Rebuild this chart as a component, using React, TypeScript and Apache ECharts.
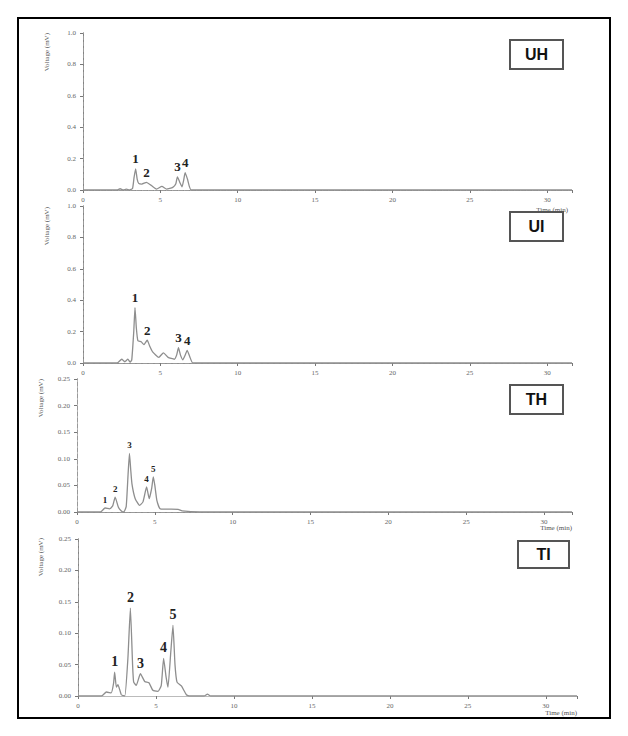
import React, { useEffect, useRef } from "react";
import * as echarts from "echarts";

// ---- data (time in min, signal in mV) ----
const uhTime = [0, 2.2, 2.4, 2.6, 2.8, 3.0, 3.2, 3.3, 3.4, 3.5, 3.6, 3.8, 4.1, 4.4, 4.75, 5.1, 5.4, 5.8, 6.0, 6.1, 6.25, 6.4, 6.5, 6.6, 6.75, 7.0, 31.6];
const uhVolt = [0, 0, 0.008, 0, 0.005, 0, 0.01, 0.08, 0.135, 0.07, 0.042, 0.038, 0.049, 0.03, 0.006, 0.023, 0.006, 0.017, 0.04, 0.084, 0.05, 0.02, 0.06, 0.11, 0.07, 0, 0];
const uhPeakTime = [3.4, 4.1, 6.1, 6.6];
const uhPeakVolt = [0.135, 0.049, 0.084, 0.11];
const uhPeakLabel = ["1", "2", "3", "4"];

const uiTime = [0, 2.2, 2.5, 2.7, 2.9, 3.05, 3.15, 3.28, 3.36, 3.45, 3.55, 3.76, 3.94, 4.15, 4.3, 4.5, 4.9, 5.2, 5.5, 5.9, 6.05, 6.17, 6.3, 6.45, 6.6, 6.73, 6.9, 7.1, 31.6];
const uiVolt = [0, 0, 0.024, 0.008, 0.024, 0.005, 0.02, 0.2, 0.353, 0.22, 0.141, 0.135, 0.117, 0.145, 0.11, 0.071, 0.036, 0.065, 0.036, 0.024, 0.05, 0.097, 0.05, 0.02, 0.05, 0.081, 0.04, 0, 0];
const uiPeakTime = [3.36, 4.15, 6.17, 6.73];
const uiPeakVolt = [0.353, 0.145, 0.097, 0.081];
const uiPeakLabel = ["1", "2", "3", "4"];

const thTime = [0, 1.5, 1.8, 2.1, 2.3, 2.45, 2.66, 2.85, 3.0, 3.16, 3.28, 3.37, 3.45, 3.53, 3.74, 4.02, 4.24, 4.47, 4.64, 4.8, 4.9, 5.0, 5.13, 5.35, 6.5, 6.75, 7.9, 31.8];
const thVolt = [0, 0, 0.0075, 0.006, 0.012, 0.028, 0.009, 0.002, 0, 0.01, 0.07, 0.11, 0.08, 0.053, 0.025, 0.0125, 0.019, 0.047, 0.025, 0.045, 0.066, 0.05, 0.022, 0.006, 0.005, 0.002, 0, 0];
const thPeakTime = [1.8, 2.45, 3.37, 4.47, 4.9];
const thPeakVolt = [0.0075, 0.028, 0.11, 0.047, 0.066];
const thPeakLabel = ["1", "2", "3", "4", "5"];

const tiTime = [0, 1.5, 1.82, 2.13, 2.28, 2.35, 2.46, 2.56, 2.78, 3.0, 3.2, 3.36, 3.5, 3.57, 3.74, 4.0, 4.28, 4.55, 4.8, 5.13, 5.34, 5.49, 5.65, 5.77, 5.95, 6.09, 6.22, 6.35, 6.63, 6.95, 7.16, 8.1, 8.3, 8.5, 32];
const tiVolt = [0, 0, 0.0064, 0.005, 0.02, 0.038, 0.014, 0.018, 0.002, 0, 0.06, 0.14, 0.05, 0.022, 0.017, 0.0355, 0.023, 0.021, 0.009, 0.0075, 0.017, 0.06, 0.03, 0.014, 0.07, 0.1125, 0.05, 0.022, 0.016, 0.002, 0, 0, 0.003, 0, 0];
const tiPeakTime = [2.35, 3.36, 4.0, 5.49, 6.09];
const tiPeakVolt = [0.038, 0.14, 0.0355, 0.06, 0.1125];
const tiPeakLabel = ["1", "2", "3", "4", "5"];

const panelNames = ["UH", "UI", "TH", "TI"];
const xMaxes = [31.6, 31.6, 31.8, 32];
const yMaxes = [1.0, 1.0, 0.25, 0.25];
const yIntervals = [0.2, 0.2, 0.05, 0.05];
const yDecimals = [1, 1, 2, 2];
const xInterval = 5;
const yTitle = "Voltage (mV)";
const xTitle = "Time (min)";

const panels = [
  { t: uhTime, v: uhVolt, pt: uhPeakTime, pv: uhPeakVolt, pl: uhPeakLabel },
  { t: uiTime, v: uiVolt, pt: uiPeakTime, pv: uiPeakVolt, pl: uiPeakLabel },
  { t: thTime, v: thVolt, pt: thPeakTime, pv: thPeakVolt, pl: thPeakLabel },
  { t: tiTime, v: tiVolt, pt: tiPeakTime, pv: tiPeakVolt, pl: tiPeakLabel },
];

// ---- layout ----
const grids = [
  { left: 83, top: 33, width: 489, height: 157 },
  { left: 83, top: 206, width: 489, height: 157 },
  { left: 77, top: 379, width: 495, height: 133 },
  { left: 78, top: 539, width: 499, height: 157 },
];
const boxes = [
  { x: 510, y: 40, w: 53, h: 29 },
  { x: 510, y: 212, w: 53, h: 29 },
  { x: 510, y: 385, w: 53, h: 29 },
  { x: 518, y: 541, w: 51, h: 27 },
];
const yTitlePos = [
  { x: 47, y: 33 },
  { x: 47, y: 207 },
  { x: 41, y: 379 },
  { x: 41, y: 538 },
];
const xTitlePos = [
  { x: 568, y: 210 },
  null,
  { x: 572, y: 528 },
  { x: 577, y: 713 },
];
const peakFont = [13, 13, 9, 14];
const bottomLineType = ["dotted", "solid", "solid", "solid"];
const leftLineType = ["solid", "solid", "dashed", "solid"];

const axisFont = "Liberation Serif";

function buildOption() {
  const xAxis: any[] = [];
  const yAxis: any[] = [];
  const series: any[] = [];
  const graphic: any[] = [];

  panels.forEach((p, i) => {
    xAxis.push({
      type: "value",
      gridIndex: i,
      position: "bottom",
      min: 0,
      max: xMaxes[i],
      interval: xInterval,
      axisLine: { show: true, lineStyle: { color: "#888", width: 1, type: bottomLineType[i] } },
      axisTick: { show: true, length: 3, lineStyle: { color: "#777" } },
      axisLabel: {
        fontSize: 7,
        color: "#666",
        fontFamily: axisFont,
        margin: 6,
        formatter: (val: number) => (val % xInterval === 0 ? String(val) : ""),
      },
      splitLine: { show: false },
    });
    yAxis.push({
      type: "value",
      gridIndex: i,
      position: "left",
      min: 0,
      max: yMaxes[i],
      interval: yIntervals[i],
      axisLine: { show: true, lineStyle: { color: "#777", width: 1, type: leftLineType[i] } },
      axisTick: { show: true, length: 3, lineStyle: { color: "#777" } },
      axisLabel: {
        fontSize: 7,
        color: "#666",
        fontFamily: axisFont,
        margin: 7,
        formatter: (val: number) => val.toFixed(yDecimals[i]),
      },
      splitLine: { show: false },
    });
  });
  panels.forEach((p, i) => {
    xAxis.push({
      type: "value",
      gridIndex: i,
      position: "top",
      min: 0,
      max: xMaxes[i],
      axisLine: { show: true, lineStyle: { color: i === 3 ? "#bbb" : "#999", width: 1, type: i === 3 ? "solid" : "dashed" } },
      axisTick: { show: false },
      axisLabel: { show: false },
      splitLine: { show: false },
    });
    yAxis.push({
      type: "value",
      gridIndex: i,
      position: "right",
      min: 0,
      max: yMaxes[i],
      axisLine: { show: true, lineStyle: { color: "#999", width: 1, type: "dashed" } },
      axisTick: { show: false },
      axisLabel: { show: false },
      splitLine: { show: false },
    });
  });

  panels.forEach((p, i) => {
    series.push({
      type: "line",
      xAxisIndex: i,
      yAxisIndex: i,
      data: p.t.map((t, k) => [t, p.v[k]]),
      showSymbol: false,
      smooth: 0.15,
      lineStyle: { color: "#8e8e8e", width: 1.3 },
      markPoint: {
        symbol: "circle",
        symbolSize: 1,
        itemStyle: { color: "rgba(0,0,0,0)" },
        label: {
          show: true,
          position: "top",
          distance: 3,
          formatter: "{b}",
          fontFamily: axisFont,
          fontWeight: "bold",
          fontSize: peakFont[i],
          color: "#222",
        },
        data: p.pt.map((t, k) => ({ name: p.pl[k], coord: [t, p.pv[k]] })),
      },
    });
  });

  // outer frame
  graphic.push({
    type: "rect",
    shape: { x: 18, y: 18, width: 592, height: 700 },
    style: { fill: "none", stroke: "#000", lineWidth: 2 },
    z: 100,
  });
  panelNames.forEach((name, i) => {
    const b = boxes[i];
    graphic.push({
      type: "rect",
      shape: { x: b.x, y: b.y, width: b.w, height: b.h },
      style: { fill: "#fff", stroke: "#555", lineWidth: 2 },
      z: 100,
    });
    graphic.push({
      type: "text",
      x: b.x + b.w / 2,
      y: b.y + b.h / 2,
      style: {
        text: name,
        fontFamily: "Liberation Sans",
        fontWeight: "bold",
        fontSize: 16,
        fill: "#111",
        align: "center",
        verticalAlign: "middle",
      },
      z: 101,
    });
    const yt = yTitlePos[i];
    graphic.push({
      type: "text",
      x: yt.x,
      y: yt.y,
      rotation: Math.PI / 2,
      style: {
        text: yTitle,
        fontFamily: axisFont,
        fontSize: 7,
        fill: "#555",
        align: "right",
        verticalAlign: "middle",
      },
    });
    const xt = xTitlePos[i];
    if (xt) {
      graphic.push({
        type: "text",
        x: xt.x,
        y: xt.y,
        style: {
          text: xTitle,
          fontFamily: axisFont,
          fontSize: 7,
          fill: "#555",
          align: "right",
          verticalAlign: "middle",
        },
      });
    }
  });

  return {
    animation: false,
    backgroundColor: "#fff",
    grid: grids.map((g) => ({ ...g, containLabel: false })),
    xAxis,
    yAxis,
    series,
    graphic,
  };
}

export default function App() {
  const ref = useRef<HTMLDivElement>(null);
  useEffect(() => {
    if (!ref.current) return;
    const chart = echarts.init(ref.current, null, { renderer: "svg" });
    chart.setOption(buildOption() as any);
    return () => chart.dispose();
  }, []);
  return (
    <div
      ref={ref}
      style={{ position: "fixed", left: 0, top: 0, width: 628, height: 736, background: "#fff" }}
    />
  );
}
